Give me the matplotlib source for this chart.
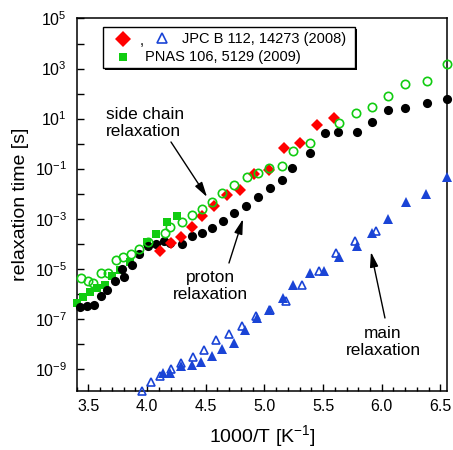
import numpy as np
import matplotlib
matplotlib.use("Agg")
from matplotlib import pyplot as plt
from matplotlib.ticker import MultipleLocator, FixedLocator, NullFormatter, FixedFormatter
from matplotlib.patches import Rectangle

plt.rcParams['font.family'] = ['Liberation Sans', 'DejaVu Sans']
plt.rcParams['axes.unicode_minus'] = False
plt.rcParams['mathtext.default'] = 'regular'

# proton relaxation (black filled circles), x = 1000/T, values are log10(tau)
proton_x = [3.428, 3.490, 3.547, 3.604, 3.660, 3.726, 3.788, 3.802, 3.873, 3.930,
            4.004, 4.080, 4.145, 4.194, 4.298, 4.381, 4.472, 4.557, 4.647, 4.738,
            4.840, 4.949, 5.051, 5.153, 5.238, 5.391, 5.519, 5.623, 5.785, 5.921,
            6.051, 6.200, 6.385, 6.555]
proton_log = [-6.51, -6.48, -6.44, -6.07, -5.84, -5.51, -5.00, -5.35, -4.84, -4.42,
              -4.11, -4.01, -3.91, -3.98, -4.01, -3.71, -3.58, -3.38, -3.09, -2.78,
              -2.49, -2.14, -1.78, -1.45, -0.98, -0.38, 0.44, 0.48, 0.48, 0.85,
              1.35, 1.41, 1.64, 1.77]

# side chain relaxation (green open circles)
side_x = [3.440, 3.493, 3.541, 3.606, 3.666, 3.731, 3.794, 3.859, 3.927, 4.006,
          4.149, 4.194, 4.298, 4.381, 4.466, 4.557, 4.642, 4.741, 4.855, 4.945,
          5.039, 5.147, 5.243, 5.391, 5.634, 5.781, 5.921, 6.054, 6.200, 6.389,
          6.555]
side_log = [-5.38, -5.51, -5.56, -5.19, -5.19, -4.67, -4.54, -4.41, -4.23, -3.94,
            -3.56, -3.35, -3.14, -2.86, -2.61, -2.32, -1.98, -1.65, -1.32, -1.18,
            -0.97, -0.88, -0.30, 0.04, 0.81, 1.24, 1.48, 1.90, 2.38, 2.50,
            3.19]

# PNAS 106, 5129 (2009) (green squares)
pnas_x = [3.406, 3.451, 3.515, 3.577, 3.640, 3.704, 3.772, 3.853, 4.000, 4.080,
          4.168, 4.253]
pnas_log = [-6.38, -6.11, -5.94, -5.76, -5.64, -5.28, -5.07, -4.74, -3.95, -3.63,
            -3.15, -2.88]

# JPC B 112, 14273 (2008) side chain (red diamonds)
jpc_x = [4.111, 4.200, 4.287, 4.383, 4.472, 4.574, 4.685, 4.796, 4.910, 5.039,
         5.166, 5.300, 5.445, 5.589]
jpc_log = [-4.30, -3.99, -3.74, -3.35, -2.88, -2.49, -2.06, -1.84, -1.22, -1.05,
           -0.17, 0.04, 0.73, 1.04]

# JPC B main relaxation (blue open triangles)
main_open_x = [3.953, 4.034, 4.114, 4.204, 4.293, 4.388, 4.486, 4.588, 4.694, 4.809,
               4.926, 5.045, 5.181, 5.320, 5.462, 5.609, 5.772, 5.953]
main_open_log = [-9.88, -9.52, -9.28, -9.01, -8.77, -8.51, -8.24, -7.85, -7.59, -7.28,
                 -6.90, -6.63, -6.28, -5.64, -5.08, -4.38, -3.91, -3.51]

# main relaxation (blue filled triangles)
main_x = [4.137, 4.196, 4.293, 4.383, 4.463, 4.555, 4.639, 4.744, 4.834, 4.934,
          5.042, 5.160, 5.240, 5.388, 5.510, 5.632, 5.785, 5.917, 6.049, 6.208,
          6.377, 6.554]
main_log = [-9.16, -9.16, -8.88, -8.86, -8.72, -8.49, -8.19, -7.95, -7.45, -6.97,
            -6.66, -6.16, -5.64, -5.16, -5.08, -4.54, -4.09, -3.58, -3.02, -2.32,
            -2.02, -1.32]

green = '#11cc11'
blue = '#1a44d6'
red = '#ff0000'

fig = plt.figure(figsize=(4.53, 4.50), dpi=100)
ax = fig.add_axes([0.1693, 0.1311, 0.8185, 0.8278])

ax.plot(main_x, np.power(10.0, main_log), '^', color=blue, ms=7.2, mew=0, clip_on=False, zorder=3)
ax.plot(main_open_x, np.power(10.0, main_open_log), '^', mfc='none', mec=blue, ms=6.4, mew=1.2,
        clip_on=False, zorder=3)
ax.plot(pnas_x, np.power(10.0, pnas_log), 's', color=green, ms=6.2, mew=0, clip_on=False, zorder=3)
ax.plot(proton_x, np.power(10.0, proton_log), 'o', color='black', ms=6.6, mew=0, clip_on=False, zorder=4)
ax.plot(jpc_x, np.power(10.0, jpc_log), 'D', color=red, ms=6.3, mew=0, clip_on=False, zorder=4)
ax.plot(side_x, np.power(10.0, side_log), 'o', mfc='none', mec=green, ms=6.0, mew=1.2,
        clip_on=False, zorder=5)

ax.set_yscale('log')
ax.set_xlim(3.4, 6.56)
ax.set_ylim(1.3e-10, 1e5)

ax.xaxis.set_major_locator(MultipleLocator(0.5))
ax.xaxis.set_minor_locator(MultipleLocator(0.1))
ax.xaxis.set_major_formatter(matplotlib.ticker.FormatStrFormatter('%.1f'))

major_exp = [5, 3, 1, -1, -3, -5, -7, -9]
minor_exp = [4, 2, 0, -2, -4, -6, -8]
ax.yaxis.set_major_locator(FixedLocator([10.0 ** e for e in major_exp]))
ax.yaxis.set_major_formatter(FixedFormatter(['$10^{%d}$' % e for e in major_exp]))
ax.yaxis.set_minor_locator(FixedLocator([10.0 ** e for e in minor_exp]))
ax.yaxis.set_minor_formatter(NullFormatter())

ax.tick_params(which='both', direction='in', top=False, right=False, labelsize=11.5, width=1)
ax.tick_params(axis='y', which='both', length=5, pad=7)
ax.tick_params(axis='x', which='major', length=5, pad=6)
ax.tick_params(axis='x', which='minor', length=3)
for s in ax.spines.values():
    s.set_linewidth(1.1)

ax.set_xlabel('1000/T [K$^{-1}$]', fontsize=14, labelpad=6)
ax.set_ylabel('relaxation time [s]', fontsize=14, labelpad=4)

# annotations
ax.text(0.079, 0.7195, 'side chain\nrelaxation', transform=ax.transAxes, fontsize=12.4,
        ha='left', va='center', linespacing=1.15)
ax.text(0.360, 0.282, 'proton\nrelaxation', transform=ax.transAxes, fontsize=12.4,
        ha='center', va='center', linespacing=1.15)
ax.text(0.826, 0.1316, 'main\nrelaxation', transform=ax.transAxes, fontsize=12.4,
        ha='center', va='center', linespacing=1.15)

arrow = dict(arrowstyle='-|>,head_length=0.9,head_width=0.25', color='black', lw=1.0,
             mutation_scale=10, shrinkA=0, shrinkB=0)
ax.annotate('', xy=(0.3516, 0.5208), xytext=(0.2543, 0.6685), xycoords='axes fraction', arrowprops=arrow)
ax.annotate('', xy=(0.4485, 0.4617), xytext=(0.4107, 0.3436), xycoords='axes fraction', arrowprops=arrow)
ax.annotate('', xy=(0.7936, 0.3732), xytext=(0.8314, 0.196), xycoords='axes fraction', arrowprops=arrow)

# legend box with shadow
ax.add_patch(Rectangle((0.0709 + 0.006, 0.8671 - 0.006), 0.6796, 0.1101, transform=ax.transAxes,
                       facecolor='black', edgecolor='black', lw=0, zorder=6))
ax.add_patch(Rectangle((0.0709, 0.8671), 0.6796, 0.1101, transform=ax.transAxes,
                       facecolor='white', edgecolor='black', lw=1.0, zorder=7))
ax.plot([0.1251], [0.945], 'D', color=red, ms=8, mew=0, transform=ax.transAxes, zorder=8)
ax.text(0.176, 0.940, ',', transform=ax.transAxes, fontsize=10.5, ha='center', va='center', zorder=8)
ax.plot([0.2300], [0.947], '^', mfc='none', mec=blue, ms=6.5, mew=1.2, transform=ax.transAxes, zorder=8)
ax.text(0.2845, 0.945, 'JPC B 112, 14273 (2008)', transform=ax.transAxes, fontsize=10.5,
        ha='left', va='center', zorder=8)
ax.plot([0.1251], [0.8966], 's', color=green, ms=6.2, mew=0, transform=ax.transAxes, zorder=8)
ax.text(0.1842, 0.8966, 'PNAS 106, 5129 (2009)', transform=ax.transAxes, fontsize=10.5,
        ha='left', va='center', zorder=8)

plt.savefig('out.png', dpi=100)
